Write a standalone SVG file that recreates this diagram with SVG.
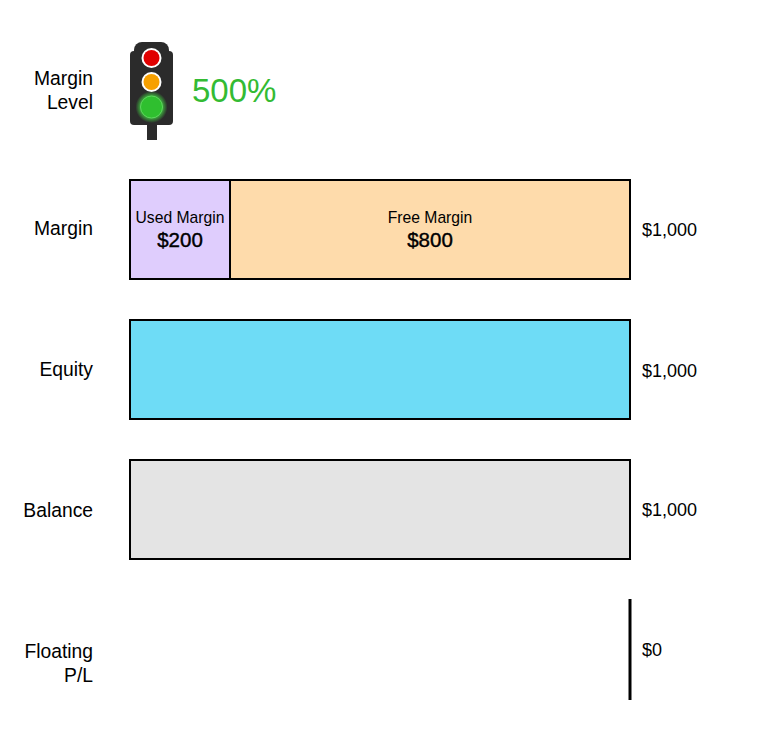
<svg xmlns="http://www.w3.org/2000/svg" width="760" height="740" viewBox="0 0 760 740">
<defs>
<style>
.lbl{font-family:"Liberation Sans",Arial,sans-serif;font-size:19.3px;fill:#000;text-anchor:end}
.val{font-family:"Liberation Sans",Arial,sans-serif;font-size:18px;fill:#000}
.bar{stroke:#000;stroke-width:2}
.small{font-family:"Liberation Sans",Arial,sans-serif;font-size:15.7px;fill:#000;text-anchor:middle}
.amt{font-family:"Liberation Sans",Arial,sans-serif;font-size:20.5px;fill:#000;text-anchor:middle;stroke:#000;stroke-width:0.4}
</style>
<radialGradient id="glow" cx="0.5" cy="0.5" r="0.5">
<stop offset="0.6" stop-color="#44dd44" stop-opacity="0.9"/>
<stop offset="1" stop-color="#44dd44" stop-opacity="0"/>
</radialGradient>
</defs>
<rect width="760" height="740" fill="#fff"/>
<g id="margin-level">
<text class="lbl" x="93" y="85">Margin</text>
<text class="lbl" x="93" y="109">Level</text>
<g id="traffic-light">
<rect x="147" y="118" width="10" height="22" fill="#2b2b2b"/>
<rect x="134" y="42" width="35" height="20" rx="8" fill="#2b2b2b"/>
<rect x="130" y="51" width="43" height="74" rx="4" fill="#2b2b2b"/>
<circle cx="151.5" cy="58" r="10" fill="#fff"/>
<circle cx="151.5" cy="58" r="8" fill="#e00000"/>
<circle cx="151.5" cy="82" r="10" fill="#fff"/>
<circle cx="151.5" cy="82" r="8" fill="#f7a000"/>
<circle cx="151.5" cy="107" r="16" fill="url(#glow)"/>
<circle cx="151.5" cy="107" r="11" fill="#2fbf2f" stroke="#5fd65f" stroke-width="1"/>
</g>
<text x="192" y="102" font-family="'Liberation Sans',Arial,sans-serif" font-size="33" fill="#33bb33">500%</text>
</g>
<g id="margin">
<text class="lbl" x="93" y="235">Margin</text>
<rect class="bar" x="130" y="180" width="100" height="99" fill="#dfcdfd"/>
<rect class="bar" x="230" y="180" width="400" height="99" fill="#fedbab"/>
<text class="small" x="180" y="223">Used Margin</text>
<text class="amt" x="180" y="247">$200</text>
<text class="small" x="430" y="223">Free Margin</text>
<text class="amt" x="430" y="247">$800</text>
<text class="val" x="642" y="236">$1,000</text>
</g>
<g id="equity">
<text class="lbl" x="93" y="376">Equity</text>
<rect class="bar" x="130" y="320" width="500" height="99" fill="#6edcf6"/>
<text class="val" x="642" y="377">$1,000</text>
</g>
<g id="balance">
<text class="lbl" x="93" y="517">Balance</text>
<rect class="bar" x="130" y="460" width="500" height="99" fill="#e4e4e4"/>
<text class="val" x="642" y="516">$1,000</text>
</g>
<g id="floating-pl">
<text class="lbl" x="93" y="658">Floating</text>
<text class="lbl" x="93" y="682">P/L</text>
<line x1="630" y1="599" x2="630" y2="700" stroke="#000" stroke-width="3"/>
<text class="val" x="642" y="656">$0</text>
</g>
<g id="connectors"></g>
</svg>
